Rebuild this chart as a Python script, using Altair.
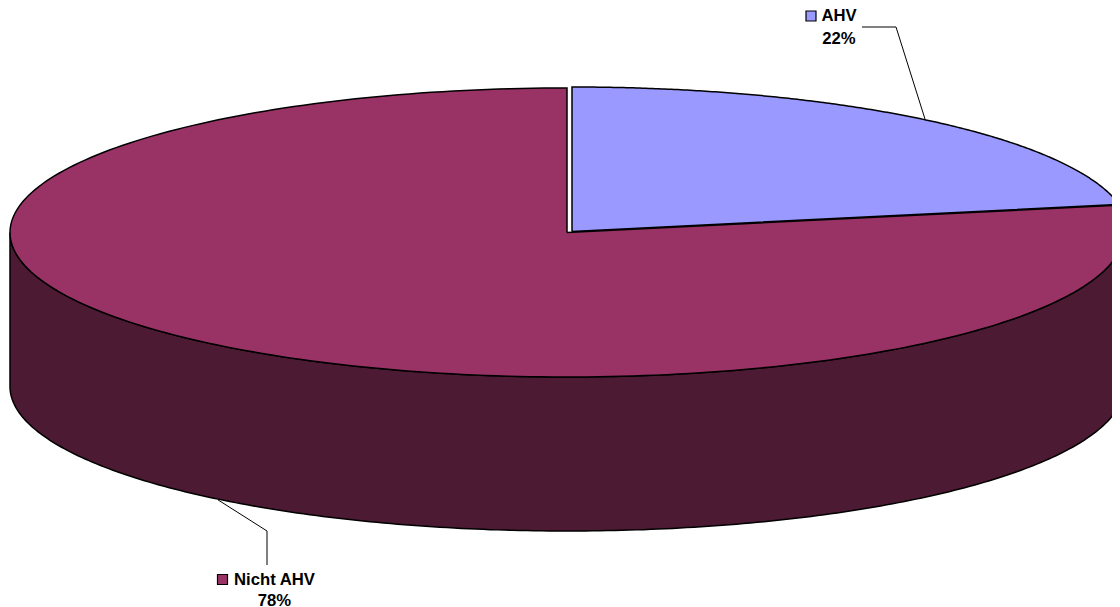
import numpy as np
import pandas as pd
import altair as alt

labels = ["AHV", "Nicht AHV"]
shares = [22, 78]
percent_text = ["22%", "78%"]
top_colors = ["#9999FF", "#993366"]
wall_colors = ["#4D4D80", "#4D1A33"]

# Unit-circle pie; the x and y scales squash it into the perspective ellipse.
CX, CY, RX, RY = 567.0, 232.5, 557.0, 144.5
W, H = 1104, 599
DEPTH = 154 / RY
EXPLODE_X, EXPLODE_Y = 5 / RX, 1 / RY


def ux(px):
    return (px - CX) / RX


def uy(py):
    return (CY - py) / RY


fr = np.cumsum([0] + shares) / sum(shares)


def arc(a, b, dx=0.0, dy=0.0, n=240):
    t = np.linspace(a, b, n) * 2 * np.pi
    return np.sin(t) + dx, np.cos(t) + dy


def polygon(xs, ys):
    return pd.DataFrame({"x": xs, "y": ys, "i": np.arange(len(xs))})


def slice_top(a, b, dx=0.0, dy=0.0):
    x, y = arc(a, b, dx, dy)
    return polygon(np.r_[dx, x, dx], np.r_[dy, y, dy])


def wall(a, b, dx=0.0, dy=0.0):
    x, y = arc(a, b, dx, dy)
    return polygon(np.r_[x, x[::-1], x[0]], np.r_[y, y[::-1] - DEPTH, y[0]])


xs = alt.X("x:Q", scale=alt.Scale(domain=[ux(8), ux(8 + W)], nice=False, zero=False), axis=None)
ys = alt.Y("y:Q", scale=alt.Scale(domain=[uy(8 + H), uy(8)], nice=False, zero=False), axis=None)


def shape(df, fill, width=1.5):
    return alt.Chart(df).mark_line(fill=fill, stroke="#000000", strokeWidth=width, clip=True).encode(
        x=xs, y=ys, order="i:Q"
    )


def leader(points):
    df = pd.DataFrame({"x": [ux(p[0]) for p in points], "y": [uy(p[1]) for p in points], "i": range(len(points))})
    return alt.Chart(df).mark_line(stroke="#000000", strokeWidth=1).encode(x=xs, y=ys, order="i:Q")


def text(s, px, py):
    df = pd.DataFrame({"x": [ux(px)], "y": [uy(py)], "t": [s]})
    return alt.Chart(df).mark_text(
        font="Liberation Sans", fontWeight="bold", fontSize=16.7, color="#000000", align="center", baseline="middle"
    ).encode(x=xs, y=ys, text="t:N")


def key(px, py, fill):
    df = pd.DataFrame({"x": [ux(px)], "y": [uy(py)]})
    return alt.Chart(df).mark_square(size=100, fill=fill, stroke="#000000", strokeWidth=1.2, opacity=1).encode(x=xs, y=ys)


mid = [(fr[0] + fr[1]) / 2, (fr[1] + fr[2]) / 2]
a_x = np.sin(2 * np.pi * mid[0]) + EXPLODE_X
a_y = np.cos(2 * np.pi * mid[0]) + EXPLODE_Y
b_x = np.sin(2 * np.pi * mid[1])
b_y = np.cos(2 * np.pi * mid[1]) - DEPTH

layers = [
    shape(wall(fr[0] + fr[1], 0.25, EXPLODE_X, EXPLODE_Y), wall_colors[0]),
    shape(slice_top(fr[0], fr[1], EXPLODE_X, EXPLODE_Y), top_colors[0]),
    shape(wall(0.25, 0.75), wall_colors[1]),
    shape(slice_top(fr[1], fr[2]), top_colors[1]),
    leader([(862, 27), (896, 27), (CX + a_x * RX - 2, CY - a_y * RY - 1)]),
    leader([(267, 565), (267, 531), (CX + b_x * RX + 6, CY - b_y * RY + 2)]),
    key(811, 16, top_colors[0]),
    key(222.5, 579.5, top_colors[1]),
    text(labels[0], 839, 16),
    text(percent_text[0], 839, 38.5),
    text(labels[1], 274.5, 579.5),
    text(percent_text[1], 274.5, 600.5),
]

chart = alt.layer(*layers).properties(
    width=W, height=H, padding=0, autosize=alt.AutoSizeParams(type="none")
).configure_view(stroke=None)

chart.save("out.html", embed_options={"renderer": "svg", "actions": False})
